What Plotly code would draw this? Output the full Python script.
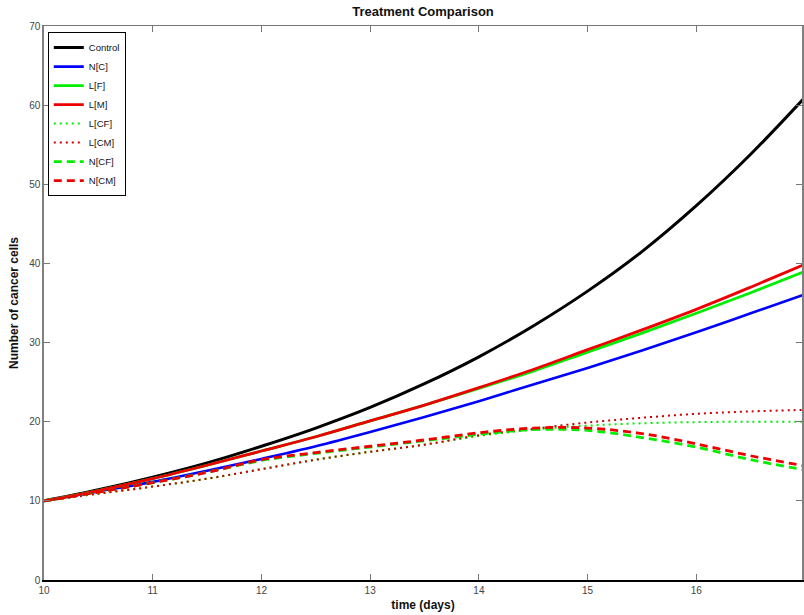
import plotly.graph_objects as go

t = [10, 10.5, 11, 11.5, 12, 12.5, 13, 13.5, 14, 14.5, 15, 15.5, 16, 16.5, 17]

control = [10, 11.4, 13.0, 14.8, 16.9, 19.2, 21.8, 24.8, 28.2, 32.1, 36.5, 41.5, 47.3, 53.8, 61.0]
n_c     = [10, 11.2, 12.4, 13.8, 15.3, 16.9, 18.7, 20.6, 22.6, 24.7, 26.8, 29.0, 31.3, 33.7, 36.1]
l_f     = [10, 11.3, 12.8, 14.5, 16.3, 18.1, 20.1, 22.1, 24.2, 26.4, 28.8, 31.2, 33.7, 36.3, 39.0]
l_m     = [10, 11.3, 12.8, 14.5, 16.3, 18.1, 20.1, 22.1, 24.3, 26.6, 29.1, 31.6, 34.2, 37.0, 39.9]
l_cf    = [10, 10.9, 11.8, 12.8, 14.0, 15.2, 16.2, 17.1, 18.2, 19.0, 19.5, 19.8, 19.95, 20.0, 20.0]
l_cm    = [10, 10.9, 11.8, 12.8, 14.0, 15.2, 16.2, 17.1, 18.3, 19.1, 19.9, 20.5, 21.0, 21.3, 21.5]
n_cf    = [10, 11.1, 12.3, 13.6, 15.1, 16.0, 16.8, 17.6, 18.4, 19.0, 18.9, 18.0, 16.8, 15.2, 13.9]
n_cm    = [10, 11.1, 12.3, 13.6, 15.2, 16.1, 16.9, 17.7, 18.6, 19.2, 19.2, 18.5, 17.2, 15.7, 14.4]

names = ["Control", "N[C]", "L[F]", "L[M]", "L[CF]", "L[CM]", "N[CF]", "N[CM]"]
series = [control, n_c, l_f, l_m, l_cf, l_cm, n_cf, n_cm]
colors = ["#000000", "#0000ff", "#00ee00", "#ee0000", "#00ee00", "#cc0000", "#00ee00", "#ee0000"]
dashes = ["solid", "solid", "solid", "solid", "2px,4px", "2px,4px", "8px,5px", "8px,5px"]
widths = [3, 2.6, 2.8, 2.8, 2, 2, 2.8, 2.8]

fig = go.Figure()
for name, ys, c, d, w in zip(names, series, colors, dashes, widths):
    fig.add_trace(go.Scatter(x=t, y=ys, mode="lines", name=name,
                             line=dict(color=c, dash=d, width=w, shape="spline")))

# invisible trace for the top axis
fig.add_trace(go.Scatter(x=[t[0]], y=[control[0]], xaxis="x2", mode="lines",
                         showlegend=False, hoverinfo="skip", line=dict(width=0)))

xr = [10, 16.972]
fig.update_layout(
    width=804, height=615,
    margin=dict(l=44, r=0, t=26, b=35),
    paper_bgcolor="white", plot_bgcolor="white",
    font=dict(family="Liberation Sans, Arial, sans-serif", color="#333333", size=10),
    title=dict(text="<b>Treatment Comparison</b>", x=0.5, xref="paper", xanchor="center",
               y=0.982, yref="container", yanchor="middle",
               font=dict(size=13, color="#111111")),
    xaxis=dict(range=xr, tickvals=[10, 11, 12, 13, 14, 15, 16, 17], ticks="inside",
               ticklen=6, tickcolor="#777777", showline=True, linecolor="#000000",
               linewidth=1.5, showgrid=False, zeroline=False,
               title=dict(text="<b>time (days)</b>", font=dict(size=12, color="#111111"),
                          standoff=6),
               tickfont=dict(size=10, color="#444444")),
    xaxis2=dict(range=xr, overlaying="x", side="top", tickvals=[10, 11, 12, 13, 14, 15, 16, 17],
                ticks="inside", ticklen=6, tickcolor="#777777", showline=True,
                linecolor="#777777", linewidth=1, showticklabels=False,
                showgrid=False, zeroline=False),
    yaxis=dict(range=[0, 70], tickvals=[0, 10, 20, 30, 40, 50, 60, 70], ticks="inside",
               ticklen=6, tickcolor="#777777", showline=True, linecolor="#808080",
               linewidth=1.5, mirror="ticks", showgrid=False, zeroline=False,
               title=dict(text="<b>Number of cancer cells</b>", font=dict(size=12, color="#111111"),
                          standoff=8),
               tickfont=dict(size=10, color="#444444")),
    legend=dict(x=0.005, y=0.989, xanchor="left", yanchor="top",
                bgcolor="white", bordercolor="#000000", borderwidth=1,
                font=dict(size=9.5, color="#111111"), tracegroupgap=0,
                itemwidth=30),
    showlegend=True,
)

fig.write_html("out.html")
